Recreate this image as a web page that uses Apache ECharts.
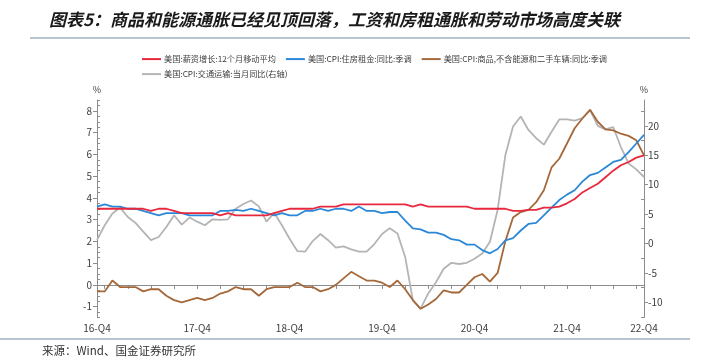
<!DOCTYPE html>
<html>
<head>
<meta charset="utf-8">
<script src="https://cdn.jsdelivr.net/npm/echarts@6/dist/echarts.min.js"></script>
<style>
  html, body { margin: 0; padding: 0; background: #fff; }
  #main { width: 719px; height: 364px; }
</style>
</head>
<body>
<div id="main"></div>
<script>
// months from 2016-11 to 2022-10
var months = [];
for (var k = 0; k < 72; k++) {
    var yy = 2016 + Math.floor((10 + k) / 12);
    var mm = (10 + k) % 12 + 1;
    months.push(yy + '-' + (mm < 10 ? '0' + mm : mm));
}
var labelIdx = [0, 13, 25, 37, 49, 61, 71];

var wage = [3.5, 3.5, 3.5, 3.5, 3.5, 3.5, 3.5, 3.4, 3.5, 3.5, 3.4, 3.3,
    3.3, 3.3, 3.3, 3.3, 3.2, 3.3, 3.2, 3.2, 3.2, 3.2, 3.2, 3.3,
    3.4, 3.5, 3.5, 3.5, 3.5, 3.6, 3.6, 3.6, 3.7, 3.7, 3.7, 3.7,
    3.7, 3.7, 3.7, 3.7, 3.7, 3.6, 3.7, 3.6, 3.6, 3.6, 3.6, 3.6,
    3.6, 3.5, 3.5, 3.5, 3.5, 3.5, 3.4, 3.4, 3.45, 3.45, 3.55, 3.55,
    3.6, 3.75, 3.95, 4.25, 4.45, 4.65, 4.95, 5.25, 5.5, 5.65, 5.85, 5.95];

var rent = [3.6, 3.7, 3.6, 3.6, 3.5, 3.5, 3.4, 3.3, 3.2, 3.3, 3.3, 3.3,
    3.2, 3.2, 3.2, 3.2, 3.4, 3.4, 3.45, 3.4, 3.5, 3.4, 3.3, 3.2,
    3.3, 3.2, 3.2, 3.4, 3.4, 3.5, 3.4, 3.5, 3.5, 3.4, 3.6, 3.4,
    3.4, 3.3, 3.35, 3.35, 2.95, 2.6, 2.55, 2.4, 2.4, 2.3, 2.1, 2.05,
    1.85, 1.85, 1.6, 1.45, 1.65, 2.05, 2.15, 2.5, 2.8, 2.85, 3.2, 3.55,
    3.9, 4.15, 4.35, 4.75, 5.05, 5.15, 5.4, 5.65, 5.75, 6.1, 6.5, 6.9];

var goods = [-0.3, -0.3, 0.2, -0.1, -0.1, -0.1, -0.3, -0.2, -0.2, -0.5, -0.7, -0.8,
    -0.7, -0.6, -0.7, -0.6, -0.4, -0.3, -0.1, -0.2, -0.2, -0.5, -0.2, -0.1,
    -0.1, -0.1, 0.1, -0.1, -0.1, -0.3, -0.2, 0.0, 0.3, 0.6, 0.4, 0.2,
    0.2, 0.1, -0.1, 0.2, -0.2, -0.7, -1.1, -0.9, -0.65, -0.25, -0.35, -0.35,
    0.0, 0.35, 0.5, 0.15, 0.55, 2.0, 3.1, 3.35, 3.45, 3.8, 4.35, 5.4,
    5.8, 6.5, 7.2, 7.65, 8.05, 7.5, 7.15, 7.1, 6.95, 6.85, 6.65, 5.95];

var transport = [0.6, 3.1, 5.1, 6.1, 4.5, 3.5, 2.0, 0.55, 1.1, 2.8, 4.8, 3.2,
    4.4, 3.7, 3.1, 4.1, 4.0, 4.1, 5.9, 6.7, 7.3, 6.3, 3.7, 5.2,
    3.1, 0.8, -1.3, -1.4, 0.4, 1.6, 0.55, -0.7, -0.5, -1.0, -1.4, -1.4,
    -0.1, 1.6, 2.6, 1.7, -2.3, -9.7, -11.1, -8.5, -6.6, -4.3, -3.3, -3.5,
    -3.3, -2.6, -1.7, 0.3, 5.7, 15.0, 19.9, 21.6, 19.3, 17.9, 16.8, 19.0,
    21.1, 21.1, 20.9, 21.3, 22.7, 20.0, 19.4, 19.8, 16.4, 13.6, 12.6, 11.3];

var leftTicks = [-1, 0, 1, 2, 3, 4, 5, 6, 7, 8];
var leftMinor = [-1.5, -1.25, -0.75, -0.5, -0.25, 0.25, 0.5, 0.75, 1.25, 1.5, 1.75,
    2.25, 2.5, 2.75, 3.25, 3.5, 3.75, 4.25, 4.5, 4.75, 5.25, 5.5, 5.75,
    6.25, 6.5, 6.75, 7.25, 7.5, 7.75, 8.25, 8.5];
var rightTicks = [-10, -5, 0, 5, 10, 15, 20];
var rightMinor = [-12.5, -7.5, -2.5, 2.5, 7.5, 12.5, 17.5, 22.5];

var names = ['美国:薪资增长:12个月移动平均', '美国:CPI:住房租金:同比:季调',
    '美国:CPI:商品,不含能源和二手车辆:同比:季调', '美国:CPI:交通运输:当月同比(右轴)'];

var chart = echarts.init(document.getElementById('main'));

var axisGray = '#8c8c8c';
var labelColor = '#404040';
var font = '"Noto Sans CJK SC", "Noto Sans", sans-serif';

function minorAxis(pos, min, max, vals) {
    return {
        type: 'value', position: pos, min: min, max: max,
        axisLine: { show: false },
        splitLine: { show: false },
        axisLabel: { show: false },
        axisTick: { show: true, inside: true, length: 3, customValues: vals,
            lineStyle: { color: axisGray } }
    };
}

var option = {
    animation: false,
    textStyle: { fontFamily: font },
    title: {
        text: '图表5：商品和能源通胀已经见顶回落，工资和房租通胀和劳动市场高度关联',
        left: 44, top: 6,
        textStyle: { fontSize: 17, fontWeight: 'bold', fontStyle: 'italic', color: '#1a1a1a', fontFamily: font }
    },
    graphic: [
        { type: 'line', shape: { x1: 30, y1: 38, x2: 690, y2: 38 }, style: { stroke: '#9fb1c3', lineWidth: 1.5 } },
        { type: 'line', shape: { x1: 0, y1: 339, x2: 690, y2: 339 }, style: { stroke: '#9fb1c3', lineWidth: 1.5 } },
        { type: 'text', left: 42, top: 345, style: { text: '来源：Wind、国金证券研究所', fontSize: 11.5, fill: '#333', fontFamily: font } }
    ],
    legend: [
        {
            data: names.slice(0, 3), left: 137, top: 50, itemWidth: 19, itemHeight: 2, itemGap: 10,
            icon: 'rect', textStyle: { fontSize: 8.2, color: '#404040', padding: [0, 0, 0, -2] }
        },
        {
            data: names.slice(3), left: 137, top: 65, itemWidth: 19, itemHeight: 2,
            icon: 'rect', textStyle: { fontSize: 8.2, color: '#404040', padding: [0, 0, 0, -2] }
        }
    ],
    grid: { left: 97, right: 75, top: 100, bottom: 46.5 },
    xAxis: {
        type: 'category',
        data: months,
        boundaryGap: false,
        axisLine: { lineStyle: { color: axisGray } },
        axisTick: {
            length: 4,
            interval: function (i) { return i % 3 === 1; },
            lineStyle: { color: axisGray }
        },
        axisLabel: {
            color: labelColor, fontSize: 10, margin: 6,
            interval: function (i) { return labelIdx.indexOf(i) >= 0; },
            formatter: function (v) {
                var p = v.split('-');
                return p[0].slice(2) + '-Q' + Math.ceil(+p[1] / 3);
            }
        },
        splitLine: { show: false }
    },
    yAxis: [
        {
            type: 'value', position: 'left', min: -1.5, max: 8.5,
            name: '%', nameGap: 6, nameTextStyle: { color: labelColor, fontSize: 9 },
            axisLine: { show: true, lineStyle: { color: axisGray } },
            axisTick: { show: true, length: 4, customValues: leftTicks, lineStyle: { color: axisGray } },
            axisLabel: { color: labelColor, fontSize: 10, margin: 5, customValues: leftTicks },
            splitLine: { show: false }
        },
        {
            type: 'value', position: 'right', min: -12.6, max: 24.4,
            name: '%', nameGap: 6, nameTextStyle: { color: labelColor, fontSize: 9 },
            axisLine: { show: true, lineStyle: { color: axisGray } },
            axisTick: { show: true, length: 4, customValues: rightTicks, lineStyle: { color: axisGray } },
            axisLabel: { color: labelColor, fontSize: 10, margin: 4, customValues: rightTicks },
            splitLine: { show: false }
        },
        minorAxis('left', -1.5, 8.5, leftMinor),
        minorAxis('right', -12.6, 24.4, rightMinor)
    ],
    series: [
        { name: names[0], type: 'line', data: wage, yAxisIndex: 0, symbol: 'none',
          lineStyle: { width: 1.8, color: '#e8283c' }, itemStyle: { color: '#e8283c' }, z: 5 },
        { name: names[1], type: 'line', data: rent, yAxisIndex: 0, symbol: 'none',
          lineStyle: { width: 1.8, color: '#2b88d8' }, itemStyle: { color: '#2b88d8' }, z: 4 },
        { name: names[2], type: 'line', data: goods, yAxisIndex: 0, symbol: 'none',
          lineStyle: { width: 1.8, color: '#a5683a' }, itemStyle: { color: '#a5683a' }, z: 3 },
        { name: names[3], type: 'line', data: transport, yAxisIndex: 1, symbol: 'none',
          lineStyle: { width: 1.8, color: '#b4b4b4' }, itemStyle: { color: '#b4b4b4' }, z: 2 }
    ]
};

chart.setOption(option);
window.addEventListener('resize', function () { chart.resize(); });
</script>
</body>
</html>
